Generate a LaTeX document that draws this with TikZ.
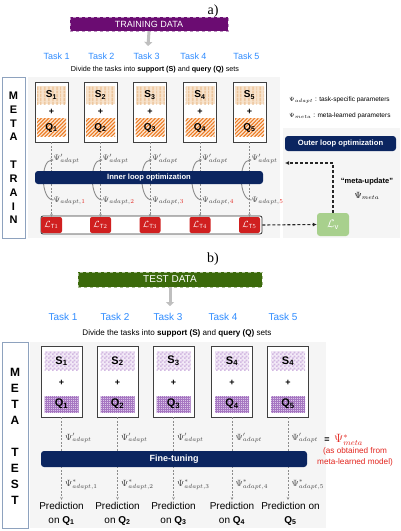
\documentclass[tikz,border=0pt]{standalone}
\usepackage{fontspec}
\setmainfont{Liberation Sans}
\newfontfamily\serifx{Liberation Serif}
\usetikzlibrary{patterns,patterns.meta,arrows.meta,calc}
\definecolor{navy}{HTML}{0B2560}
\definecolor{taskblue}{HTML}{2F8CFF}
\definecolor{lred}{HTML}{D01F1F}
\definecolor{pred}{HTML}{E3261F}
\definecolor{purp}{HTML}{6B0C72}
\definecolor{tgreen}{HTML}{3B6A0B}
\definecolor{lgreen}{HTML}{A8D08D}
\definecolor{panel}{HTML}{F5F5F5}
\definecolor{tanf}{HTML}{F8E3CC}
\definecolor{tanl}{HTML}{EBC195}
\definecolor{orng}{HTML}{EC7A22}
\definecolor{orf}{HTML}{FCE6D2}
\definecolor{spur}{HTML}{F3EAF7}
\definecolor{spurl}{HTML}{D2B8E1}
\definecolor{qpur}{HTML}{DCC6E8}
\definecolor{qpurl}{HTML}{A677C2}
\definecolor{sidebd}{HTML}{8EA2BE}
\definecolor{psi}{HTML}{444444}
\pgfdeclarepatternformonly{smallchecker}{\pgfpointorigin}{\pgfpoint{4pt}{4pt}}{\pgfpoint{4pt}{4pt}}{%
  \pgfpathrectangle{\pgfpointorigin}{\pgfpoint{2pt}{2pt}}%
  \pgfpathrectangle{\pgfpoint{2pt}{2pt}}{\pgfpoint{2pt}{2pt}}%
  \pgfusepath{fill}}
\begin{document}
\begin{tikzpicture}[x=1pt,y=-1pt,
  fs/.style={font=\fontsize{#1}{#1}\selectfont},
  databox/.style={dashed,line width=0.6pt,inner sep=0,text=white,fs=9},
  sidebox/.style={draw=sidebd,line width=0.8pt,fill=white,inner sep=0},
  sidel/.style={font=\bfseries\fontsize{#1}{#1}\selectfont},
  tasklbl/.style={text=taskblue,font=\fontsize{#1}{#1}\selectfont},
  trbox/.style={draw=black!75,line width=0.8pt,fill=white,minimum width=33,minimum height=60,inner sep=0},
  tebox/.style={draw=black!75,line width=0.8pt,fill=white,minimum width=41,minimum height=71,inner sep=0},
  bigarrow/.style={draw=black!25,line width=3pt,-{Triangle[length=4pt,width=8pt]}},
  dline/.style={draw=black!45,dashed,dash pattern=on 2pt off 1.5pt,line width=0.5pt,-{Stealth[length=3pt,width=2.5pt]}},
  carrow/.style={draw=black!45,line width=0.9pt,-{Stealth[length=3pt,width=3pt]}},
  navybar/.style={fill=navy,rounded corners=3pt,text=white,inner sep=0,font=\bfseries\fontsize{#1}{#1}\selectfont},
  psil/.style={text=psi,anchor=west,inner sep=0,font=\fontsize{#1}{#1}\selectfont},
  lbox/.style={fill=lred,rounded corners=2pt,minimum width=21,minimum height=16,inner sep=0,text=white,fs=9},
  mdash/.style={draw=black!85,line width=1.1pt,dash pattern=on 3pt off 2pt,-{Latex[length=4pt,width=4pt]}},
]
\useasboundingbox (0,0) rectangle (400,531);
\fill[white] (0,0) rectangle (400,531);

% ================= a) =================
\node (la) [font=\serifx\fontsize{14}{14}\selectfont] at (213,11) {a)};
\node (trd) [databox,draw=purp!45,fill=purp,minimum width=158,minimum height=14] at (149,24) {TRAINING DATA};
\coordinate (trdarr) at (148,46);
\draw[bigarrow] (trd.south) -- (trdarr);
\foreach \i/\x in {1/56.7,2/101.5,3/146.7,4/193.5,5/246.5}
  \node (tt\i) [tasklbl=9] at (\x,56) {Task \i};
\node (dv1) [fs=7.2] at (155,70) {Divide the tasks into \textbf{support (S)} and \textbf{query (Q)} sets};

% panels
\fill[panel] (28,77) rectangle (280,238);
\fill[panel] (283,128) rectangle (400,238);

% side box
\node (mtr) [sidebox,minimum width=23,minimum height=161] at (13.5,157.5) {};
\foreach \l/\y [count=\k] in {M/96,E/110,T/123.5,A/137,T/165,R/179,A/193,I/206.5,N/220}
  \node (mt\k) [sidel=11] at (13.5,\y) {\l};

% task boxes
\foreach \i/\c in {1/51.5,2/100.5,3/150,4/200,5/249.5}{
  \node (tb\i) [trbox] at (\c,112) {};
  \fill[tanf,postaction={pattern={Lines[angle=90,distance=4pt,line width=1.6pt]},pattern color=tanl}] (\c-14.5,86) rectangle (\c+14.5,104);
  \fill[orf,postaction={pattern={Lines[angle=45,distance=2.6pt,line width=1.1pt]},pattern color=orng}] (\c-14.5,118) rectangle (\c+14.5,136);
  \node (s\i) [font=\bfseries\fontsize{10}{10}\selectfont] at (\c,95) {S\textsubscript{\i}};
  \node (p\i) [font=\bfseries\fontsize{9}{9}\selectfont] at (\c,111.5) {+};
  \node (q\i) [font=\bfseries\fontsize{10}{10}\selectfont] at (\c,127.5) {Q\textsubscript{\i}};
}

% loss container
\node (lcont) [draw=black!80,line width=0.8pt,fill=white,rounded corners=2pt,minimum width=221,minimum height=18,inner sep=0] at (151.5,225) {};
\foreach \i/\c in {1/51.5,2/100.5,3/150,4/200,5/249.5}{
  \node (lt\i) [lbox] at (\c,225) {$\mathcal{L}_{\mathrm{T}\i}$};
  \node (pa\i) [psil=8.5] at (\c+2,159) {$\Psi'_{adapt}$};
  \node (pb\i) [psil=8.5] at (\c+2,201) {$\Psi_{adapt,\textcolor{pred}{\i}}$};
  \draw[dline] (tb\i.south) -- (lt\i.north);
  \draw[carrow] ($(pb\i.west)+(0,-1)$) to[out=180,in=180,looseness=0.85] ($(pa\i.west)+(0,1)$);
}
\node (inner) [navybar=7.6,minimum width=228,minimum height=13] at (149,177.5) {Inner loop optimization};

% legend
\node (lg1) [anchor=west,inner sep=0,fs=6.5] at (289,100) {$\Psi_{adapt}$ : task-specific parameters};
\node (lg2) [anchor=west,inner sep=0,fs=6.5] at (289,116) {$\Psi_{meta}$ : meta-learned parameters};

% outer loop
\node (outer) [navybar=7.6,minimum width=111,minimum height=15] at (340.5,143.5) {Outer loop optimization};
\node (lv) [fill=lgreen,rounded corners=3pt,minimum width=32,minimum height=23,inner sep=0,text=white,fs=11] at (333,224.5) {$\mathcal{L}_{\mathrm{v}}$};
\coordinate (mu) at (285,163);
\draw[mdash] (lcont.east) -- (lv.west);
\draw[mdash] (lv.north) |- (mu);
\node (mut) [font=\bfseries\fontsize{7.5}{8}\selectfont] at (367,182) {``meta-update''};
\node (mpsi) [fs=9] at (367,196) {$\Psi_{meta}$};

% ================= b) =================
\node (lb) [font=\serifx\fontsize{14}{14}\selectfont] at (213,259) {b)};
\node (ted) [databox,draw=tgreen!45,fill=tgreen,minimum width=184,minimum height=15,fs=10] at (170,279.5) {TEST DATA};
\coordinate (tedarr) at (170,306);
\draw[bigarrow] (ted.south) -- (tedarr);
\foreach \i/\x in {1/63,2/115,3/168,4/223,5/283}
  \node (ut\i) [tasklbl=10] at (\x,317) {Task \i};
\node (dv2) [fs=8.1] at (177,333) {Divide the tasks into \textbf{support (S)} and \textbf{query (Q)} sets};

\fill[panel] (30,342) rectangle (326,528);
\node (mte) [sidebox,minimum width=26,minimum height=186] at (15,435) {};
\foreach \l/\y [count=\k] in {M/372,E/388,T/404,A/420,T/452,E/468,S/484,T/500}
  \node (me\k) [sidel=12] at (15,\y) {\l};

\foreach \i/\c/\s in {1/61.5/1,2/117.5/2,3/173.5/3,4/232/4,5/288/4}{
  \node (eb\i) [tebox] at (\c,381.5) {};
  \fill[spur,postaction={pattern=smallchecker,pattern color=spurl}] (\c-17,351) rectangle (\c+17,370);
  \fill[qpur,postaction={pattern={Hatch[distance=2pt,line width=0.45pt]},pattern color=qpurl}] (\c-17,396) rectangle (\c+17,412.5);
  \node (es\i) [font=\bfseries\fontsize{11}{11}\selectfont] at (\c,361) {S\textsubscript{\s}};
  \node (ep\i) [font=\bfseries\fontsize{9}{9}\selectfont] at (\c,383) {+};
  \node (eq\i) [font=\bfseries\fontsize{11}{11}\selectfont] at (\c,404) {Q\textsubscript{\i}};
  \node (ea\i) [psil=9] at (\c+3.5,438) {$\Psi'_{adapt}$};
  \node (ec\i) [psil=9] at (\c+3.5,485) {$\Psi^{*}_{adapt,\i}$};
}
\foreach \i/\c in {1/61.5,2/117.5,3/173.5,4/232}
  \node (pr\i) [anchor=north,align=center,inner sep=0.5pt,font=\fontsize{10}{13.5}\selectfont] at (\c,502) {Prediction\\on \textbf{Q\textsubscript{\i}}};
\node (pr5) [anchor=north,align=center,inner sep=0.5pt,font=\fontsize{10}{13.5}\selectfont] at (290.5,502) {Prediction on\\\textbf{Q\textsubscript{5}}};
\foreach \i/\c in {1/61.5,2/117.5,3/173.5,4/232,5/288}{
  \coordinate (pt\i) at (\c,500);
  \draw[dline] (eb\i.south) -- (pt\i);
}
\node (fine) [navybar=9,minimum width=266,minimum height=16] at (174,459) {Fine-tuning};

\node (eq) [font=\bfseries\fontsize{9}{9}\selectfont] at (327,440) {=};
\node (pm) [anchor=west,inner sep=0,text=pred,fs=12] at (334,440) {$\Psi^{*}_{meta}$};
\node (obt) [align=center,text=pred,font=\fontsize{8.2}{10.5}\selectfont] at (355,457) {(as obtained from\\meta-learned model)};
\end{tikzpicture}
\end{document}
